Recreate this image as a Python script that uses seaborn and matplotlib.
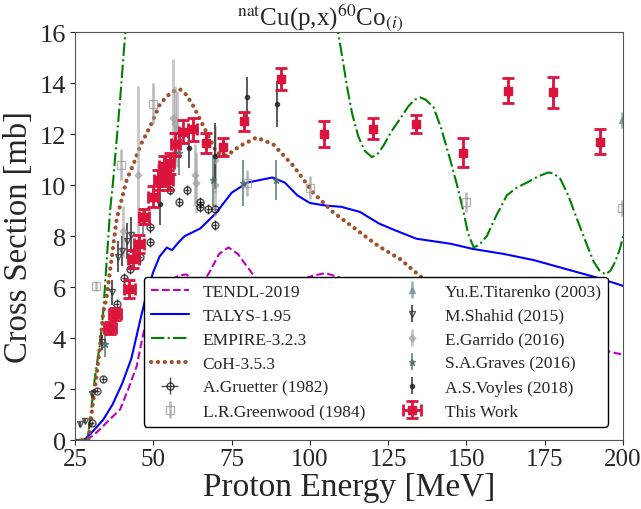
import numpy as np
import pandas as pd
import seaborn as sns
import matplotlib.pyplot as plt

# --- model curves ---
tendl_E = [25, 28, 29, 31, 33, 36, 39.4, 42, 44.7, 46.5, 48.4, 51, 55, 58, 60.5, 63, 65.5, 68, 71, 74, 77, 80, 83,
           88, 95, 101, 105, 109, 115, 125, 140, 160, 180, 200]
tendl_y = [0, 0, 0.05, 0.2, 0.43, 0.8, 1.2, 2.0, 2.9, 4.0, 5.0, 5.7, 6.2, 6.45, 6.5, 6.3, 6.1, 6.6, 7.3, 7.56, 7.3, 6.8, 6.3,
           6.0, 6.2, 6.45, 6.55, 6.4, 6.0, 5.5, 5.0, 4.4, 3.9, 3.35]

talys_E = [25, 28, 30, 34, 37, 40, 43, 46, 48, 50, 52, 54.3, 56, 58, 60, 65, 70, 75, 80, 84, 88, 92, 96, 100, 105,
           110, 116, 122, 127, 134, 145, 152, 162, 171.5, 185, 192.7, 200]
talys_y = [0, 0.02, 0.25, 0.8, 1.4, 2.2, 3.2, 4.8, 5.8, 6.6, 7.2, 7.55, 7.45, 7.75, 8.0, 8.3, 8.9, 9.7, 10.1, 10.2, 10.3,
           10.1, 9.6, 9.3, 9.2, 9.15, 8.95, 8.5, 8.24, 7.9, 7.7, 7.5, 7.3, 7.06, 6.6, 6.34, 6.05]

empire_E = [25, 28, 29, 30, 31.4, 33, 34, 36.2, 37.2, 39.4, 41, 43, 50, 60, 80, 100, 106, 109, 110.5, 111.8, 113.5,
            115.5, 117.5, 119.8, 121.5, 123.5, 126, 128.8, 131.5, 133.5, 135.2, 137, 139.5, 142, 144.8, 147, 149.1,
            150.5, 152.3, 154, 156.5, 159.5, 162.9, 166, 169.3, 173, 176.2, 178, 180, 182.5, 185.3, 188, 190.6,
            192.5, 194.4, 196, 197.5, 199, 200]
empire_y = [0, 0, 0.05, 1.0, 2.5, 3.8, 5.0, 9.0, 10.2, 13.35, 15.9, 19, 28, 35, 35, 25, 19, 16, 14.9, 13.9, 12.8,
            11.9, 11.35, 11.1, 11.2, 11.55, 12.1, 12.6, 13.1, 13.35, 13.44, 13.35, 13.05, 12.2, 11.0, 10.0, 8.93,
            8.1, 7.56, 7.65, 8.0, 8.8, 9.6, 9.9, 10.1, 10.35, 10.5, 10.45, 10.24, 9.6, 8.67, 7.8, 7.0,
            6.65, 6.5, 6.65, 7.0, 7.5, 8.0]

coh_E = [25, 28.5, 29.3, 29.8, 30.9, 32, 33, 34, 35.1, 38.3, 41.5, 43.6, 45.8, 49, 52.2, 55, 57, 58.5, 60.5, 62.8,
         67, 70.2, 73.4, 77.7, 83, 88.3, 94.7, 101.1, 107.5, 116, 122, 128.8, 135.7, 142]
coh_y = [0, 0, 0.04, 0.56, 1.6, 2.67, 3.7, 5.0, 5.6, 8.67, 10.2, 10.8, 11.54, 12.3, 13.2, 13.55, 13.72, 13.76, 13.55,
         13.1, 12.07, 11.28, 11.15, 11.54, 11.87, 11.6, 10.76, 9.7, 8.93, 8.15, 7.6, 7.1, 6.38, 5.9]

# --- experimental data ---
gru_E = [30.3, 32.0, 34.0, 38.3, 40.8, 42.6, 45.6, 49.0, 49.0, 55.3, 58.3, 60.7, 65.0, 65.0, 67.6, 69.6, 69.6]
gru_y = [0.69, 1.93, 2.4, 5.35, 6.35, 6.7, 7.2, 8.34, 7.78, 9.8, 9.35, 9.82, 9.32, 9.16, 9.08, 9.08, 8.43]
gru_err = [0.08, 0.1, 0.12, 0.2, 0.2, 0.2, 0.2, 0.2, 0.2, 0.2, 0.2, 0.2, 0.2, 0.2, 0.2, 0.2, 0.2]

gre_E = [31.7, 39.8, 49.8, 79.9, 99.9, 150.0, 199.6]
gre_y = [6.05, 10.8, 13.2, 10.08, 9.9, 9.35, 9.1]
gre_err = [0.2, 0.6, 0.8, 0.5, 0.45, 0.4, 0.3]

tit_E = [199.6]
tit_y = [12.55]
tit_err = [0.3]

sha_E = [26.6, 28.2, 30.3, 33.5, 36.7, 38.8, 40.1, 41.5, 42.9]
sha_y = [0.63, 0.76, 1.8, 3.83, 5.8, 7.2, 7.42, 7.8, 8.04]
sha_err = [0.1, 0.1, 0.15, 0.3, 0.5, 0.6, 0.6, 0.7, 0.7]

gar_E = [40.4, 45.2, 56.4, 57.0, 57.5, 63.3, 63.6, 69.7, 69.8]
gar_y = [8.2, 10.4, 12.65, 12.4, 12.2, 10.4, 10.1, 11.0, 10.0]
gar_err = [1.0, 3.5, 2.3, 1.5, 1.5, 1.2, 1.2, 1.3, 1.2]

gra_E = [34.6, 46.8, 58.3, 69.0, 78.6, 89.2]
gra_y = [3.76, 8.6, 11.28, 10.2, 10.08, 10.2]
gra_err = [0.5, 0.5, 0.9, 1.0, 0.9, 0.8]

voy_E = [52.0, 61.5, 69.8, 79.9, 89.6]
voy_y = [9.25, 11.44, 11.13, 13.45, 13.2]
voy_err = [0.8, 0.75, 1.3, 0.8, 0.9]

tw_E = [36.2, 37.8, 42.3, 43.6, 45.4, 47.0, 49.8, 51.6, 53.0, 54.8, 53.4, 55.2, 57.0, 59.6, 62.6, 66.7, 72.1,
        79.0, 90.7, 104.5, 120.1, 134.0, 148.8, 163.4, 177.5, 192.7]
tw_y = [4.4, 4.95, 5.92, 7.1, 7.7, 8.77, 9.55, 10.2, 10.35, 10.2, 10.75, 10.85, 11.6, 12.1, 12.2, 11.65, 11.48,
        12.5, 14.18, 12.0, 12.22, 12.4, 11.28, 13.71, 13.65, 11.71]
tw_xerr = [2.0, 2.0, 1.7, 1.7, 1.6, 1.6, 1.6, 1.5, 1.5, 1.5, 1.5, 1.5, 1.5, 1.4, 1.4, 0, 0, 0, 0, 0, 0, 0, 0, 0, 0, 0]
tw_yerr = [0.25, 0.25, 0.35, 0.35, 0.35, 0.3, 0.4, 0.4, 0.4, 0.4, 0.4, 0.4, 0.45, 0.45, 0.45, 0.4, 0.35,
           0.36, 0.43, 0.5, 0.4, 0.37, 0.57, 0.49, 0.61, 0.49]

sns.set_style("ticks")
plt.rcParams['font.family'] = ['Liberation Serif', 'DejaVu Serif']
plt.rcParams['mathtext.fontset'] = 'stix'

fig = plt.figure(figsize=(6.41, 5.10), dpi=100)
ax = fig.add_axes([0.117, 0.135, 0.855, 0.80])

sns.lineplot(x=tendl_E, y=tendl_y, ax=ax, color='m', linestyle='--', lw=1.5, sort=False, estimator=None, label='TENDL-2019')
sns.lineplot(x=talys_E, y=talys_y, ax=ax, color='b', linestyle='-', lw=1.5, sort=False, estimator=None, label='TALYS-1.95')
sns.lineplot(x=empire_E, y=empire_y, ax=ax, color='g', linestyle='-.', lw=1.5, sort=False, estimator=None, label='EMPIRE-3.2.3')
sns.lineplot(x=coh_E, y=coh_y, ax=ax, color='sienna', linestyle=(0, (0.05, 1.6)), lw=3, dash_capstyle='round',
             sort=False, estimator=None, label='CoH-3.5.3')

ax.errorbar(gru_E, gru_y, yerr=gru_err, xerr=0.8, fmt='o', ms=5, mfc='none', color='k', alpha=0.7, lw=1,
            label='A.Gruetter (1982)')
ax.errorbar(gre_E, gre_y, yerr=gre_err, fmt='s', ms=6, mfc='none', color='#999999', alpha=0.7, lw=1.8,
            label='L.R.Greenwood (1984)')
ax.errorbar(tit_E, tit_y, yerr=tit_err, fmt='^', ms=5, color='#6f8f8f', alpha=0.7, lw=1.8,
            label='Yu.E.Titarenko (2003)')
ax.errorbar(sha_E, sha_y, yerr=sha_err, fmt='v', ms=5, mfc='none', color='#333333', alpha=0.8, lw=1.5,
            label='M.Shahid (2015)')
ax.errorbar(gar_E, gar_y, yerr=gar_err, fmt='D', ms=3.5, color='#a0a0a0', alpha=0.6, lw=2,
            label='E.Garrido (2016)')
ax.errorbar(gra_E, gra_y, yerr=gra_err, fmt='*', ms=5, color='#4f6f6f', alpha=0.8, lw=1.3,
            label='S.A.Graves (2016)')
ax.errorbar(voy_E, voy_y, yerr=voy_err, fmt='.', ms=6, color='#222222', alpha=0.8, lw=1.3,
            label='A.S.Voyles (2018)')
ax.errorbar(tw_E, tw_y, xerr=tw_xerr, yerr=tw_yerr, fmt='s', ms=6, color='#dc143c', lw=2, capsize=4, capthick=2,
            label='This Work', zorder=5)

ax.set_xlim(25, 200)
ax.set_ylim(0, 16)
ax.set_xticks([25, 50, 75, 100, 125, 150, 175, 200])
ax.set_yticks(range(0, 17, 2))
ax.tick_params(axis='x', labelsize=18, pad=2)
ax.tick_params(axis='y', labelsize=19, pad=3)
for s in ax.spines.values():
    s.set_color('#555555')
ax.set_xlabel('Proton Energy [MeV]', fontsize=24, labelpad=1)
ax.set_ylabel('Cross Section [mb]', fontsize=23.5, labelpad=4)
fig.text(0.5, 0.995, r'$^{\rm nat}$Cu(p,x)$^{60}$Co$_{(i)}$', ha='center', va='top', fontsize=18)

handles, labels = ax.get_legend_handles_labels()
leg = ax.legend(handles, labels, ncol=2, loc='lower right', bbox_to_anchor=(0.988, 0.012), fontsize=12.5,
                labelspacing=0.45, columnspacing=1.6, framealpha=1, edgecolor='k', handlelength=2.2)
leg.get_frame().set_linewidth(1)

fig.savefig('out.png', dpi=100)
